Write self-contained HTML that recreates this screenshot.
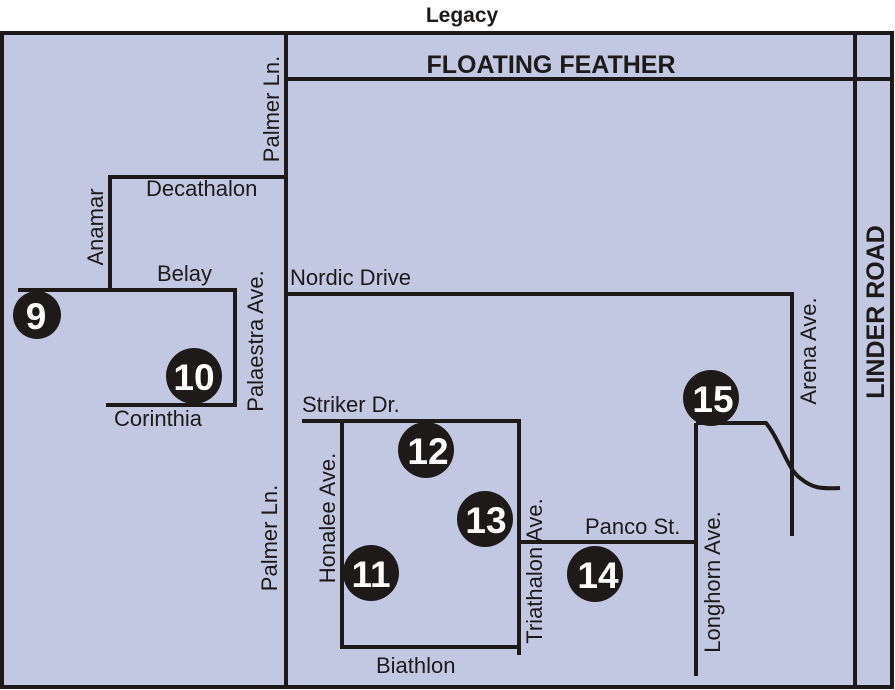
<!DOCTYPE html>
<html><head><meta charset="utf-8"><style>
html,body{margin:0;padding:0;background:#fff;}
svg{display:block;}
text{font-family:"Liberation Sans",sans-serif;fill:#1e1a1a;}
.n{font-weight:bold;fill:#fff;font-size:37px;text-anchor:middle;}
.l{font-size:22px;}
.b{font-weight:bold;}
</style></head><body>
<svg width="895" height="690" viewBox="0 0 895 690" xmlns="http://www.w3.org/2000/svg">
<rect x="2" y="33" width="890" height="654" fill="#c2c8e2" stroke="#1e1a1a" stroke-width="4"/>
<g stroke="#1e1a1a" stroke-width="4" fill="none">
<line x1="286" y1="33" x2="286" y2="688"/>
<line x1="286" y1="79" x2="892" y2="79"/>
<line x1="855" y1="33" x2="855" y2="688"/>
<polyline points="110,290 110,177 286,177"/>
<polyline points="18,290 235,290 235,405 106,405"/>
<polyline points="286,294 792,294 792,536"/>
<polyline points="302,421 519,421 519,655"/>
<polyline points="342,421 342,647 519,647"/>
<line x1="519" y1="542" x2="696" y2="542"/>
<line x1="696" y1="423" x2="696" y2="676"/>
<path d="M696,423 L766,423 C780,440 788,470 800,478 C812,488 820,489 840,488"/>
</g>
<g fill="#1e1a1a">
<circle cx="37" cy="315" r="24"/>
<circle cx="194" cy="376" r="28"/>
<circle cx="371" cy="573" r="28"/>
<circle cx="426" cy="450" r="28"/>
<circle cx="485" cy="519" r="28"/>
<circle cx="595" cy="574" r="28"/>
<circle cx="711" cy="398" r="28"/>
</g>
<text class="n" x="36" y="329">9</text>
<text class="n" x="194" y="390">10</text>
<text class="n" x="371" y="587">11</text>
<text class="n" x="428" y="464">12</text>
<text class="n" x="486" y="533">13</text>
<text class="n" x="598" y="588">14</text>
<text class="n" x="713" y="412">15</text>
<text class="b" x="462" y="22" font-size="21" text-anchor="middle">Legacy</text>
<text class="b" x="551" y="73" font-size="25" text-anchor="middle">FLOATING FEATHER</text>
<text class="b" font-size="25" text-anchor="middle" transform="translate(884,312) rotate(-90)">LINDER ROAD</text>
<text class="l" x="146" y="196">Decathalon</text>
<text class="l" x="157" y="281">Belay</text>
<text class="l" x="114" y="426">Corinthia</text>
<text class="l" x="290" y="285">Nordic Drive</text>
<text class="l" x="302" y="412">Striker Dr.</text>
<text class="l" x="376" y="673">Biathlon</text>
<text class="l" x="585" y="534">Panco St.</text>
<text class="l" text-anchor="middle" transform="translate(279,109) rotate(-90)">Palmer Ln.</text>
<text class="l" text-anchor="middle" transform="translate(103,227) rotate(-90)">Anamar</text>
<text class="l" text-anchor="middle" transform="translate(263,341) rotate(-90)">Palaestra Ave.</text>
<text class="l" text-anchor="middle" transform="translate(277,538) rotate(-90)">Palmer Ln.</text>
<text class="l" text-anchor="middle" transform="translate(335,518) rotate(-90)">Honalee Ave.</text>
<text class="l" text-anchor="middle" transform="translate(542,571) rotate(-90)">Triathalon Ave.</text>
<text class="l" text-anchor="middle" transform="translate(720,582) rotate(-90)">Longhorn Ave.</text>
<text class="l" text-anchor="middle" transform="translate(816,351) rotate(-90)">Arena Ave.</text>
</svg>
</body></html>
